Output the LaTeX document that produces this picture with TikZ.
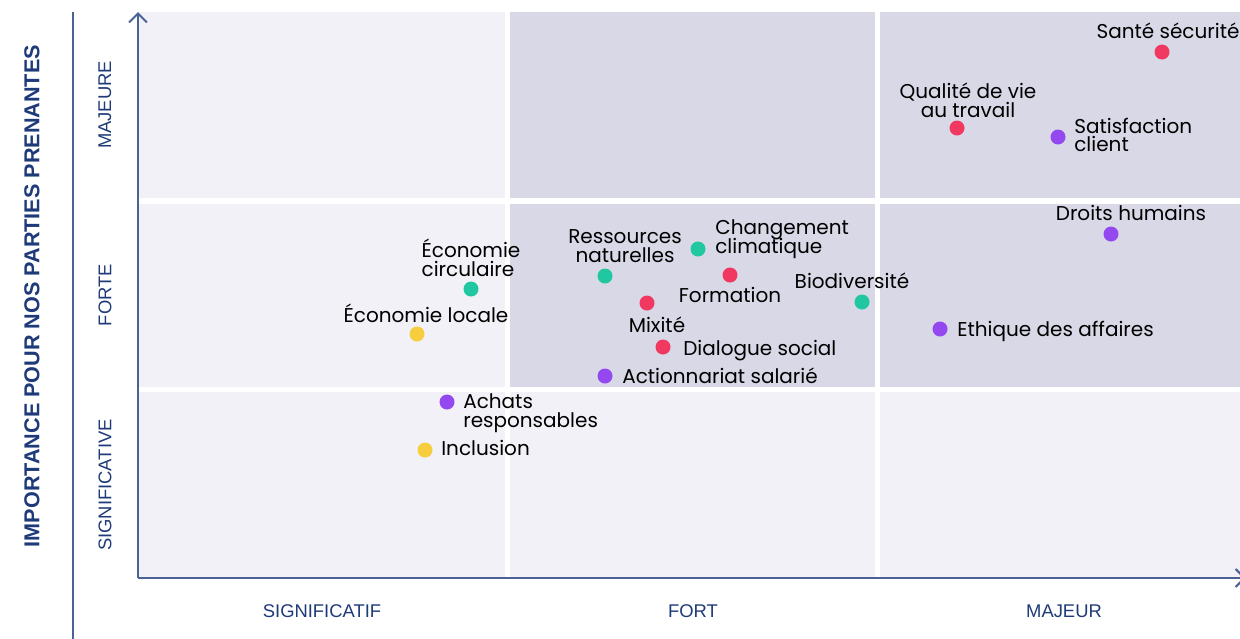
\documentclass[tikz,border=0pt]{standalone}
\usepackage{fontspec}
\setmainfont{Poppins}
\newfontfamily\axefont{Liberation Sans}
\usetikzlibrary{positioning,arrows.meta}
\definecolor{fondclair}{HTML}{F1F1F7}
\definecolor{fondfonce}{HTML}{D9D8E7}
\definecolor{bleunuit}{HTML}{1E3A78}
\definecolor{bleuaxe}{HTML}{4A6294}
\definecolor{ptrouge}{HTML}{F03860}
\definecolor{ptviolet}{HTML}{9448F0}
\definecolor{ptvert}{HTML}{21C7A0}
\definecolor{ptjaune}{HTML}{F6CD3C}
\def\serre{\fontsize{10}{9.3}\selectfont\setlength{\lineskiplimit}{-6pt}}
\tikzset{
	point/.style={circle, inner sep=0pt, minimum size=7.5pt},
	enjeu/.style={inner sep=0pt, font=\serre, text=black},
	niveau/.style={inner sep=0pt, font=\axefont\fontsize{9.2}{11}\selectfont, text=bleunuit},
}

\begin{document}
\begin{tikzpicture}[x=0.5pt, y=-0.5pt]
		%%%%% START %%%%%
		
		\useasboundingbox (0, 0) rectangle (1240, 638);
		
		\fill[fondclair] (138, 12) rectangle (505, 198);
		\fill[fondfonce] (510, 12) rectangle (875, 198);
		\fill[fondfonce] (880, 12) rectangle (1240, 198);
		\fill[fondclair] (138, 204) rectangle (505, 387);
		\fill[fondfonce] (510, 204) rectangle (875, 387);
		\fill[fondfonce] (880, 204) rectangle (1240, 387);
		\fill[fondclair] (138, 392) rectangle (505, 578);
		\fill[fondclair] (510, 392) rectangle (875, 578);
		\fill[fondclair] (880, 392) rectangle (1240, 578);
		
		\coordinate (origine) at (138, 578);
		\coordinate (haut) at (138, 12);
		\coordinate (droite) at (1246, 578);
		\draw[line width=1pt, color=bleuaxe, -{Straight Barb[length=4.5pt, width=9pt]}] (origine) -- (haut);
		\draw[line width=1pt, color=bleuaxe, -{Straight Barb[length=4.5pt, width=9pt]}] (origine) -- (droite);
		\draw[line width=0.8pt, color=bleuaxe] (73, 12) -- (73, 640);
		
		\node[rotate=90, font=\axefont\bfseries\fontsize{10.8}{12}\selectfont, text=bleunuit] (titre) at (32, 296) {IMPORTANCE POUR NOS PARTIES PRENANTES};
		\node[niveau, rotate=90] (majeure) at (105, 105) {MAJEURE};
		\node[niveau, rotate=90] (forte) at (105, 295) {FORTE};
		\node[niveau, rotate=90] (significative) at (105, 485) {SIGNIFICATIVE};
		\node[niveau] (significatif) at (322, 611) {SIGNIFICATIF};
		\node[niveau] (fort) at (693, 611) {FORT};
		\node[niveau] (majeur) at (1064, 611) {MAJEUR};
		
		% social
		\node[point, fill=ptrouge] (sante) at (1162, 52) {};
		\node[enjeu, above=2.5pt of sante, xshift=3pt] (lsante) {Santé sécurité};
		\node[point, fill=ptrouge] (qualite) at (957, 128) {};
		\node[enjeu, align=center, above=1pt of qualite, xshift=5.5pt] (lqualite) {Qualité de vie\\au travail};
		\node[point, fill=ptrouge] (formation) at (730, 275) {};
		\node[enjeu, below=1.75pt of formation] (lformation) {Formation};
		\node[point, fill=ptrouge] (mixite) at (647, 303) {};
		\node[enjeu, below=2.75pt of mixite, xshift=5pt] (lmixite) {Mixité};
		\node[point, fill=ptrouge] (dialogue) at (663, 347) {};
		\node[enjeu, right=6pt of dialogue, yshift=-2pt] (ldialogue) {Dialogue social};
		
		% gouvernance
		\node[point, fill=ptviolet] (satisfaction) at (1058, 137) {};
		\node[enjeu, align=left, right=4pt of satisfaction, yshift=1pt] (lsatisfaction) {Satisfaction\\client};
		\node[point, fill=ptviolet] (droits) at (1111, 234) {};
		\node[enjeu, above=2.5pt of droits, xshift=10pt] (ldroits) {Droits humains};
		\node[point, fill=ptviolet] (ethique) at (940, 329) {};
		\node[enjeu, right=4.5pt of ethique, yshift=-1pt] (lethique) {Ethique des affaires};
		\node[point, fill=ptviolet] (actionnariat) at (605, 376) {};
		\node[enjeu, right=4.5pt of actionnariat] (lactionnariat) {Actionnariat salarié};
		\node[point, fill=ptviolet] (achats) at (447, 402) {};
		\node[enjeu, align=left, right=4pt of achats, yshift=-5.5pt] (lachats) {Achats\\responsables};
		
		% environnement
		\node[point, fill=ptvert] (changement) at (698, 249) {};
		\node[enjeu, align=left, right=4.5pt of changement, yshift=5pt] (lchangement) {Changement\\climatique};
		\node[point, fill=ptvert] (ressources) at (605, 276) {};
		\node[enjeu, align=center, above=2.5pt of ressources, xshift=10pt] (lressources) {Ressources\\naturelles};
		\node[point, fill=ptvert] (biodiversite) at (862, 302) {};
		\node[enjeu, above=2.5pt of biodiversite, xshift=-5pt] (lbiodiversite) {Biodiversité};
		\node[point, fill=ptvert] (circulaire) at (471, 289) {};
		\node[enjeu, align=left, above=2pt of circulaire] (lcirculaire) {Économie\\circulaire};
		
		% territoire
		\node[point, fill=ptjaune] (locale) at (417, 334) {};
		\node[enjeu, above=1.5pt of locale, xshift=4.5pt] (llocale) {Économie locale};
		\node[point, fill=ptjaune] (inclusion) at (425, 450) {};
		\node[enjeu, right=4pt of inclusion, yshift=1pt] (linclusion) {Inclusion};
		
		%%%%% END %%%%%
	\end{tikzpicture}
\end{document}
